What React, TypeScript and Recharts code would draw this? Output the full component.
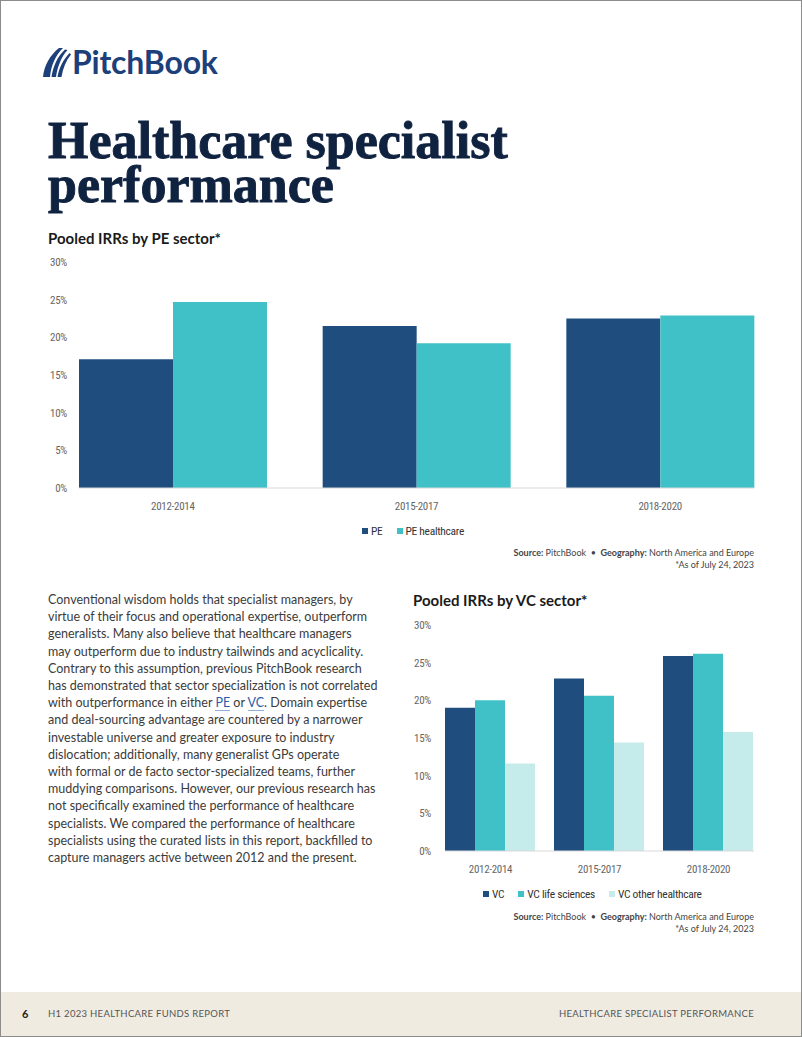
import React from "react";
import { BarChart, Bar, XAxis, YAxis } from "recharts";

const periods = ["2012-2014", "2015-2017", "2018-2020"];
const peAll = [17.1, 21.5, 22.5];
const peHealthcare = [24.7, 19.2, 22.9];
const vcAll = [19.0, 22.9, 25.9];
const vcLifeSciences = [20.0, 20.6, 26.2];
const vcOtherHealthcare = [11.6, 14.4, 15.8];
const pctTicks = [0, 5, 10, 15, 20, 25, 30];

const peData = periods.map((period, i) => ({
  period,
  pe: peAll[i],
  peHealthcare: peHealthcare[i],
}));

const vcData = periods.map((period, i) => ({
  period,
  vc: vcAll[i],
  vcLife: vcLifeSciences[i],
  vcOther: vcOtherHealthcare[i],
}));

const NAVY = "#1f4e7e";
const TEAL = "#3fc1c7";
const PALE = "#c5ebea";

const peSeries = [
  { key: "pe", name: "PE", color: NAVY },
  { key: "peHealthcare", name: "PE healthcare", color: TEAL },
];
const vcSeries = [
  { key: "vc", name: "VC", color: NAVY },
  { key: "vcLife", name: "VC life sciences", color: TEAL },
  { key: "vcOther", name: "VC other healthcare", color: PALE },
];

const narrow = "'Liberation Sans Narrow', 'Roboto Condensed', Roboto, sans-serif";
const sans = "Lato, 'Open Sans', sans-serif";

const tickStyle = { fontSize: 11, fill: "#666", fontFamily: narrow, letterSpacing: -0.3 };

const paragraph = [
  "Conventional wisdom holds that specialist managers, by",
  "virtue of their focus and operational expertise, outperform",
  "generalists. Many also believe that healthcare managers",
  "may outperform due to industry tailwinds and acyclicality.",
  "Contrary to this assumption, previous PitchBook research",
  "has demonstrated that sector specialization is not correlated",
  "LINKS",
  "and deal-sourcing advantage are countered by a narrower",
  "investable universe and greater exposure to industry",
  "dislocation; additionally, many generalist GPs operate",
  "with formal or de facto sector-specialized teams, further",
  "muddying comparisons. However, our previous research has",
  "not specifically examined the performance of healthcare",
  "specialists. We compared the performance of healthcare",
  "specialists using the curated lists in this report, backfilled to",
  "capture managers active between 2012 and the present.",
];

function LegendRow({ items, left, top }: { items: typeof vcSeries; left: number; top: number }) {
  return (
    <div
      style={{
        position: "absolute",
        left,
        top,
        height: 14,
        display: "flex",
        alignItems: "center",
        fontFamily: narrow,
        fontSize: 11.5,
        letterSpacing: -0.3,
        color: "#333",
        lineHeight: "14px",
        whiteSpace: "nowrap",
      }}
    >
      {items.map((p) => (
        <span key={p.key} style={{ display: "flex", alignItems: "center", marginRight: 14 }}>
          <span style={{ width: 6, height: 6, background: p.color, marginRight: 3 }} />
          {p.name}
        </span>
      ))}
    </div>
  );
}

function SourceNote({ top }: { top: number }) {
  return (
    <div
      style={{
        position: "absolute",
        top,
        right: 48,
        textAlign: "right",
        fontFamily: sans,
        fontSize: 9,
        lineHeight: "12px",
        color: "#444",
      }}
    >
      <div>
        <b>Source:</b> PitchBook &nbsp;•&nbsp; <b>Geography:</b> North America and Europe
      </div>
      <div>*As of July 24, 2023</div>
    </div>
  );
}

function Logo() {
  return (
    <div style={{ position: "absolute", left: 42, top: 42, display: "flex", alignItems: "center" }}>
      <svg width={30} height={34} viewBox="0 0 30 34">
        <path d="M1 32 C2 21 8 10 17 3 L21 3 C13 11 9 21 8 32 Z" fill="#1d3f7a" />
        <path d="M9.5 32 C11 22 15 12 23 4.5 L25.5 5 C19 12 15.5 22 14 32 Z" fill="#1d3f7a" />
        <path d="M15.5 32 C17 23 21 15 27.5 8 L29 9.5 C24 15.5 21 23 19.5 32 Z" fill="#1d3f7a" />
      </svg>
      <span
        style={{
          fontFamily: sans,
          fontWeight: 700,
          fontSize: 32,
          color: "#1d3f7a",
          letterSpacing: -0.2,
        }}
      >
        PitchBook
      </span>
    </div>
  );
}

const titleLine = {
  position: "absolute" as const,
  left: 48,
  height: 44,
  fontFamily: "'Liberation Serif', serif",
  fontWeight: 700,
  fontSize: 52,
  lineHeight: "44px",
  color: "#0f2240",
  WebkitTextStroke: "0.9px #0f2240",
  whiteSpace: "nowrap" as const,
};

export default function App() {
  return (
    <div
      style={{
        position: "absolute",
        left: 0,
        top: 0,
        width: 802,
        height: 1037,
        background: "#fff",
        boxShadow: "inset 0 0 0 1px #8c8c8c",
        overflow: "hidden",
      }}
    >
      <Logo />

      <div style={{ ...titleLine, top: 119 }}>Healthcare specialist</div>
      <div style={{ ...titleLine, top: 163 }}>performance</div>

      <div
        style={{
          position: "absolute",
          left: 48,
          top: 229,
          fontFamily: sans,
          fontWeight: 700,
          fontSize: 15,
          color: "#1a1a1a",
        }}
      >
        Pooled IRRs by PE sector*
      </div>

      <div style={{ position: "absolute", left: 0, top: 250 }}>
        <BarChart
          width={802}
          height={268}
          data={peData}
          margin={{ top: 12, right: 48, bottom: 0, left: 0 }}
          barCategoryGap={28}
          barGap={0}
        >
          <XAxis
            dataKey="period"
            padding={{ left: -28, right: -28 }}
            tickLine={false}
            tickSize={0}
            tickMargin={14}
            axisLine={{ stroke: "#d9d9d9" }}
            tick={tickStyle}
          />
          <YAxis
            width={79}
            domain={[0, 30]}
            ticks={pctTicks}
            axisLine={false}
            tickLine={false}
            tickSize={0}
            tickMargin={12}
            tick={tickStyle}
            tickFormatter={(v: number) => `${v}%`}
          />
          {peSeries.map((s) => (
            <Bar key={s.key} dataKey={s.key} name={s.name} fill={s.color} isAnimationActive={false} />
          ))}
        </BarChart>
      </div>

      <LegendRow items={peSeries} left={362} top={524} />
      <SourceNote top={547} />

      <div
        style={{
          position: "absolute",
          left: 48,
          top: 591,
          fontFamily: sans,
          fontSize: 12.5,
          lineHeight: "17.2px",
          color: "#3b3b3b",
          whiteSpace: "nowrap",
        }}
      >
        {paragraph.map((line, i) =>
          line === "LINKS" ? (
            <div key={i}>
              with outperformance in either{" "}
              <span style={{ color: "#2b5ca8", borderBottom: "1px solid #8fb0dc" }}>PE</span> or{" "}
              <span style={{ color: "#2b5ca8", borderBottom: "1px solid #8fb0dc" }}>VC</span>. Domain expertise
            </div>
          ) : (
            <div key={i}>{line}</div>
          )
        )}
      </div>

      <div
        style={{
          position: "absolute",
          left: 413,
          top: 591,
          fontFamily: sans,
          fontWeight: 700,
          fontSize: 15,
          color: "#1a1a1a",
        }}
      >
        Pooled IRRs by VC sector*
      </div>

      <div style={{ position: "absolute", left: 400, top: 613 }}>
        <BarChart
          width={402}
          height={268}
          data={vcData}
          margin={{ top: 12, right: 48, bottom: 0, left: 0 }}
          barCategoryGap={9}
          barGap={0}
        >
          <XAxis
            dataKey="period"
            padding={{ left: -9, right: -9 }}
            tickLine={false}
            tickSize={0}
            tickMargin={14}
            axisLine={{ stroke: "#d9d9d9" }}
            tick={tickStyle}
          />
          <YAxis
            width={45}
            domain={[0, 30]}
            ticks={pctTicks}
            axisLine={false}
            tickLine={false}
            tickSize={0}
            tickMargin={14}
            tick={tickStyle}
            tickFormatter={(v: number) => `${v}%`}
          />
          {vcSeries.map((s) => (
            <Bar key={s.key} dataKey={s.key} name={s.name} fill={s.color} isAnimationActive={false} />
          ))}
        </BarChart>
      </div>

      <LegendRow items={vcSeries} left={483} top={887} />
      <SourceNote top={911} />

      <div
        style={{
          position: "absolute",
          left: 1,
          right: 1,
          bottom: 1,
          height: 44,
          background: "#f0ebe1",
          fontFamily: sans,
          fontSize: 9.5,
          color: "#555",
          letterSpacing: 0.3,
        }}
      >
        <span style={{ position: "absolute", left: 21, top: 15, fontWeight: 700, fontSize: 11, color: "#222" }}>6</span>
        <span style={{ position: "absolute", left: 47, top: 16 }}>H1 2023 HEALTHCARE FUNDS REPORT</span>
        <span style={{ position: "absolute", right: 47, top: 16 }}>HEALTHCARE SPECIALIST PERFORMANCE</span>
      </div>
    </div>
  );
}
